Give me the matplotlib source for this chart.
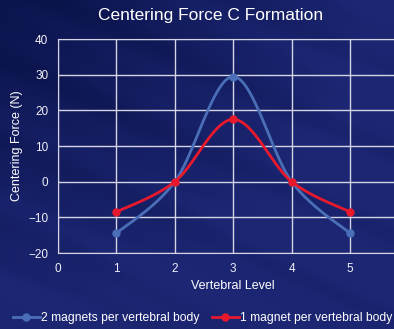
import numpy as np
import matplotlib
matplotlib.use("Agg")
import matplotlib.pyplot as plt
from matplotlib.lines import Line2D

plt.rcParams['font.family'] = ['Liberation Sans', 'DejaVu Sans']

levels = [1, 2, 3, 4, 5]
two_magnets = [-14.5, 0, 29.5, 0, -14.5]
one_magnet = [-8.5, 0, 17.5, 0, -8.5]
series_names = ["2 magnets per vertebral body", "1 magnet per vertebral body"]


def smooth(xs, ys, n=30):
    # excel style smoothed line (cardinal spline through the points)
    xs = np.asarray(xs, float)
    ys = np.asarray(ys, float)
    px = np.concatenate([[xs[0]], xs, [xs[-1]]])
    py = np.concatenate([[ys[0]], ys, [ys[-1]]])
    outx, outy = [], []
    for i in range(1, len(px) - 2):
        p0 = np.array([px[i - 1], py[i - 1]])
        p1 = np.array([px[i], py[i]])
        p2 = np.array([px[i + 1], py[i + 1]])
        p3 = np.array([px[i + 2], py[i + 2]])
        c1 = p1 + (p2 - p0) / 6.0
        c2 = p2 - (p3 - p1) / 6.0
        t = np.linspace(0, 1, n)[:, None]
        b = ((1 - t) ** 3) * p1 + 3 * ((1 - t) ** 2) * t * c1 + 3 * (1 - t) * t ** 2 * c2 + t ** 3 * p2
        outx.extend(b[:, 0])
        outy.extend(b[:, 1])
    return outx, outy


fig = plt.figure(figsize=(3.94, 3.29), dpi=100)

# background: navy, darker in the top-left corner, faint diagonal streaks
bg = fig.add_axes([0, 0, 1, 1], zorder=-10)
h, w = 329, 394
yy, xx = np.mgrid[0:h, 0:w]
r = np.sqrt((xx / w) ** 2 + (yy / h) ** 2)
base = np.clip(0.25 + 0.8 * r, 0, 1)
d = (yy - 0.45 * xx) / h
streak = 0.07 * np.sin(d * 23 + 0.5) + 0.04 * np.sin(d * 51 + 2.0)
v = np.clip(base + streak, 0, 1)
dark = np.array([0.02, 0.05, 0.24])
light = np.array([0.11, 0.15, 0.45])
img = dark + (light - dark) * v[..., None]
bg.imshow(img, aspect='auto', extent=[0, 1, 0, 1], origin='upper')
bg.axis('off')

ax = fig.add_axes([0.147, 0.231, 0.89, 0.65])
ax.patch.set_alpha(0)
ax.set_xlim(0, 6)
ax.set_ylim(-20, 40)
ax.set_xticks([0, 1, 2, 3, 4, 5, 6])
ax.set_xticklabels(["0", "1", "2", "3", "4", "5", ""])
ax.set_yticks([-20, -10, 0, 10, 20, 30, 40])
ax.grid(True, color='#d4d4e4', linewidth=1)
for s in ax.spines.values():
    s.set_color('#d4d4e4')
ax.tick_params(colors='#f0f0f8', labelsize=8.5, length=0, pad=7)
ax.set_xlabel("Vertebral Level", color='white', fontsize=9, labelpad=4)
ax.set_ylabel("Centering Force (N)", color='white', fontsize=9, labelpad=4)

blue = '#4a6fb8'
red = '#e8192c'
sx, sy = smooth(levels, two_magnets)
ax.plot(sx, sy, color=blue, linewidth=2, zorder=3)
ax.plot(levels, two_magnets, 'o', color=blue, markersize=5, zorder=4)
sx, sy = smooth(levels, one_magnet)
ax.plot(sx, sy, color=red, linewidth=2, zorder=5)
ax.plot(levels, one_magnet, 'o', color=red, markersize=5, zorder=6)

fig.text(0.535, 0.953, "Centering Force C Formation", color='white', fontsize=12.5,
         ha='center', va='center')

handles = [Line2D([], [], color=blue, linewidth=2, marker='o', markersize=5),
           Line2D([], [], color=red, linewidth=2, marker='o', markersize=5)]
fig.legend(handles, series_names, loc='center', bbox_to_anchor=(0.515, 0.033), ncol=2,
           frameon=False, fontsize=8.7, labelcolor='white', handlelength=2.2,
           handletextpad=0.15, columnspacing=1.0)

fig.savefig("out.png", dpi=100)
